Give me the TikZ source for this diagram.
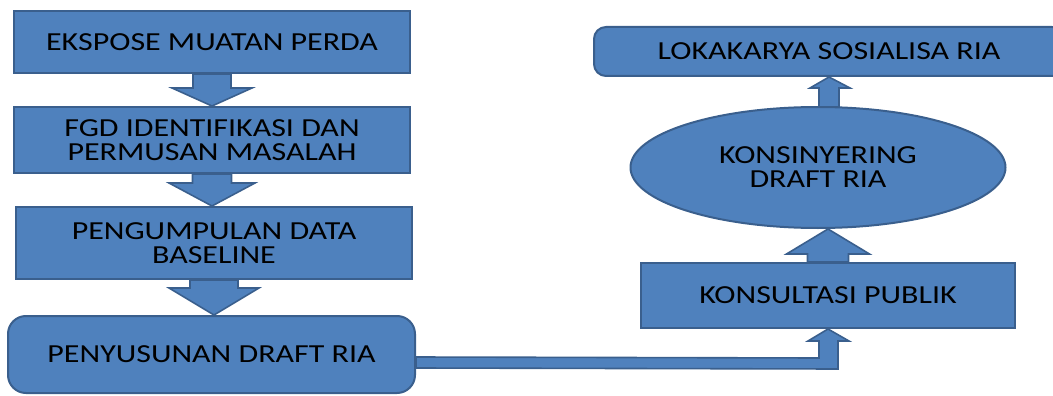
\documentclass[tikz,border=0pt]{standalone}
\usepackage{fontspec}
\setmainfont{Carlito}[FakeStretch=1.23]
\usetikzlibrary{calc,shapes.geometric}
\definecolor{boxfill}{HTML}{4F81BD}
\definecolor{boxline}{HTML}{3A5F8D}
\tikzset{
  stepbox/.style={draw=boxline, fill=boxfill, line width=2pt, align=center,
    font=\fontsize{26}{24}\selectfont, text=black, inner sep=0pt},
  roundbox/.style={stepbox, rounded corners=#1},
  ovalbox/.style={stepbox, ellipse},
  barrow/.style={draw=boxline, fill=boxfill, line width=1.6pt, line join=miter}
}
\begin{document}
\begin{tikzpicture}[x=1pt, y=-1pt]
\clip (0,0) rectangle (1053,396);
% left column
\node[stepbox, minimum width=396pt, minimum height=62pt] (b1) at (212,42) {EKSPOSE MUATAN PERDA};
\node[stepbox, minimum width=396pt, minimum height=66pt] (b2) at (212,140) {FGD IDENTIFIKASI DAN\\PERMUSAN MASALAH};
\node[stepbox, minimum width=396pt, minimum height=72pt] (b3) at (214,243) {PENGUMPULAN DATA\\BASELINE};
\node[roundbox=18pt, minimum width=407pt, minimum height=77pt] (b4) at (211.5,354.5) {PENYUSUNAN DRAFT RIA};
% right column
\node[stepbox, minimum width=374pt, minimum height=65pt] (kons) at (828,295.5) {KONSULTASI PUBLIK};
\node[ovalbox, minimum width=375pt, minimum height=121pt] (ell) at (818,167.5) {KONSINYERING\\DRAFT RIA};
\node[roundbox=12pt, minimum width=470pt, minimum height=49pt] (lok) at (829,51.5) {LOKAKARYA SOSIALISA RIA};
% block arrows down the left column
\path[barrow] ($(b1.south)+(-19,0)$) -- ($(b1.south)+(19,0)$) -- ($(b1.south)+(19,14)$) -- ($(b1.south)+(40,14)$)
  -- (b1.south |- b2.north) -- ($(b1.south)+(-40,14)$) -- ($(b1.south)+(-19,14)$) -- cycle;
\path[barrow] ($(b2.south)+(-19.5,0)$) -- ($(b2.south)+(19.5,0)$) -- ($(b2.south)+(19.5,9)$) -- ($(b2.south)+(43,9)$)
  -- (b2.south |- b3.north) -- ($(b2.south)+(-43,9)$) -- ($(b2.south)+(-19.5,9)$) -- cycle;
\path[barrow] ($(b3.south)+(-24,0)$) -- ($(b3.south)+(24,0)$) -- ($(b3.south)+(24,8)$) -- ($(b3.south)+(45,8)$)
  -- (b3.south |- b4.north) -- ($(b3.south)+(-45,8)$) -- ($(b3.south)+(-24,8)$) -- cycle;
% bent arrow from the draft to the public consultation
\path[barrow] ($(b4.east)+(0,2.5)$) -- ($(kons.south)+(-9,29)$) -- ($(kons.south)+(-9,12)$) -- ($(kons.south)+(-20,12)$)
  -- (kons.south) -- ($(kons.south)+(21,12)$) -- ($(kons.south)+(10,12)$) -- ($(kons.south)+(10,40)$)
  -- ($(b4.east)+(0,13.5)$) -- cycle;
% block arrows up the right column
\path[barrow] ($(kons.north)+(-20.5,0)$) -- ($(kons.north)+(-20.5,-8)$) -- ($(kons.north)+(-41.5,-8)$)
  -- (kons.north |- ell.south) -- ($(kons.north)+(41.5,-8)$) -- ($(kons.north)+(20.5,-8)$) -- ($(kons.north)+(20.5,0)$) -- cycle;
\path[barrow] ($(lok.south |- ell.north)+(-10,1)$) -- ($(lok.south)+(-10,11)$) -- ($(lok.south)+(-19,11)$)
  -- (lok.south) -- ($(lok.south)+(21,11)$) -- ($(lok.south)+(10,11)$) -- ($(lok.south |- ell.north)+(10,1)$) -- cycle;
\end{tikzpicture}
\end{document}
